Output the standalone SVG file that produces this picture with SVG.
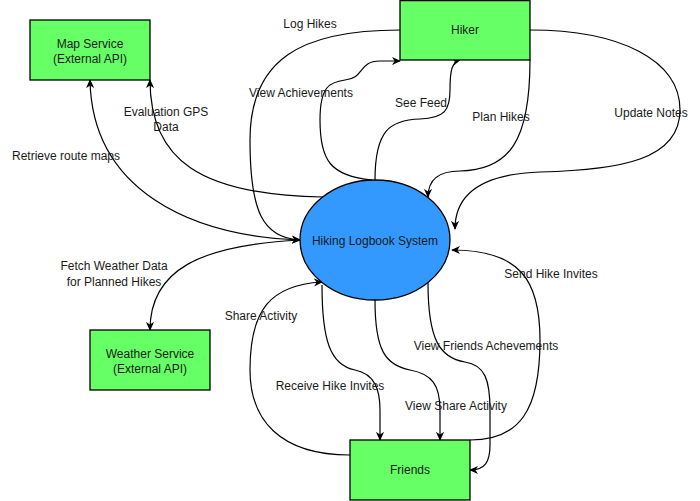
<svg xmlns="http://www.w3.org/2000/svg" width="700" height="501" viewBox="0 0 700 501">
<style>
.box{fill:#66FF66;stroke:#000;stroke-width:1.3}
.sys{fill:#3399FF;stroke:#000;stroke-width:1.3}
.t{font-family:"Liberation Sans",Arial,sans-serif;font-size:12px;fill:#1a1a1a;text-anchor:middle;dominant-baseline:central}
.e{fill:none;stroke:#000;stroke-width:1.2}
</style>
<defs>
<marker id="arr" viewBox="0 0 10 10" refX="9" refY="5" markerWidth="9" markerHeight="9" markerUnits="userSpaceOnUse" orient="auto-start-reverse">
<path d="M0,0.5 L10,5 L0,9.5 L3,5 Z" fill="#000"/>
</marker>
</defs>
<g id="connectors">
<path class="e" d="M90,80 C92,190 190,236 300,240" marker-start="url(#arr)" marker-end="url(#arr)"/>
<path class="e" d="M323,197 C200,195 150,160 150,80" marker-end="url(#arr)"/>
<path class="e" d="M300,240 C200,245 150,270 150,330" marker-end="url(#arr)"/>
<path class="e" d="M400,30 C300,30 250,60 250,140 C250,210 262,238 300,240" marker-end="url(#arr)"/>
<path class="e" d="M372,180 C330,176 320,160 320,120 C320,86 330,82 345,80 C365,78 358,61 380,61 L400,61" marker-end="url(#arr)"/>
<path class="e" d="M375,180 C375,130 390,120 420,119 C445,118 450,110 450,90 C450,70 452,62 460,60" marker-end="url(#arr)"/>
<path class="e" d="M530,60 C530,140 510,170 460,171 C440,171 428,178 428,197" marker-end="url(#arr)"/>
<path class="e" d="M530,30 C620,30 680,60 680,110 C680,160 620,170 540,172 C480,174 455,195 455,229" marker-end="url(#arr)"/>
<path class="e" d="M470,440 C520,440 540,410 540,340 C540,280 520,250 452,250" marker-end="url(#arr)"/>
<path class="e" d="M428,283 C428,340 440,358 465,362 C485,365 490,380 490,410 L490,445 C490,462 485,470 470,470" marker-end="url(#arr)"/>
<path class="e" d="M375,300 C375,350 385,365 410,370 C432,374 440,385 440,410 L440,440" marker-end="url(#arr)"/>
<path class="e" d="M322,285 C322,340 330,365 355,370 C375,374 380,390 380,410 L380,440" marker-end="url(#arr)"/>
<path class="e" d="M350,455 C280,455 250,420 250,370 C250,310 270,285 322,282" marker-end="url(#arr)"/>
</g>
<g id="map-service">
<rect class="box" x="30" y="20" width="120" height="60"/>
<text class="t" x="90" y="44">Map Service</text>
<text class="t" x="90" y="59">(External API)</text>
</g>
<g id="hiker">
<rect class="box" x="400" y="0.6" width="130" height="59.4"/>
<text class="t" x="465" y="30">Hiker</text>
</g>
<g id="system">
<ellipse class="sys" cx="375" cy="240" rx="75" ry="60"/>
<text class="t" x="375" y="241">Hiking Logbook System</text>
</g>
<g id="weather-service">
<rect class="box" x="90" y="330" width="120" height="60"/>
<text class="t" x="150" y="354">Weather Service</text>
<text class="t" x="150" y="369">(External API)</text>
</g>
<g id="friends">
<rect class="box" x="350" y="440" width="120" height="60"/>
<text class="t" x="410" y="470">Friends</text>
</g>
<g id="labels">
<text class="t" x="310" y="24">Log Hikes</text>
<text class="t" x="301" y="93">View Achievements</text>
<text class="t" x="421" y="103">See Feed</text>
<text class="t" x="501" y="117">Plan Hikes</text>
<text class="t" x="651" y="113">Update Notes</text>
<text class="t" x="166" y="112">Evaluation GPS</text>
<text class="t" x="166" y="127">Data</text>
<text class="t" x="66" y="156">Retrieve route maps</text>
<text class="t" x="114" y="266">Fetch Weather Data</text>
<text class="t" x="114" y="282">for Planned Hikes</text>
<text class="t" x="261" y="316">Share Activity</text>
<text class="t" x="330" y="386">Receive Hike Invites</text>
<text class="t" x="456" y="406">View Share Activity</text>
<text class="t" x="486" y="346">View Friends Achevements</text>
<text class="t" x="551" y="274">Send Hike Invites</text>
</g>
</svg>
